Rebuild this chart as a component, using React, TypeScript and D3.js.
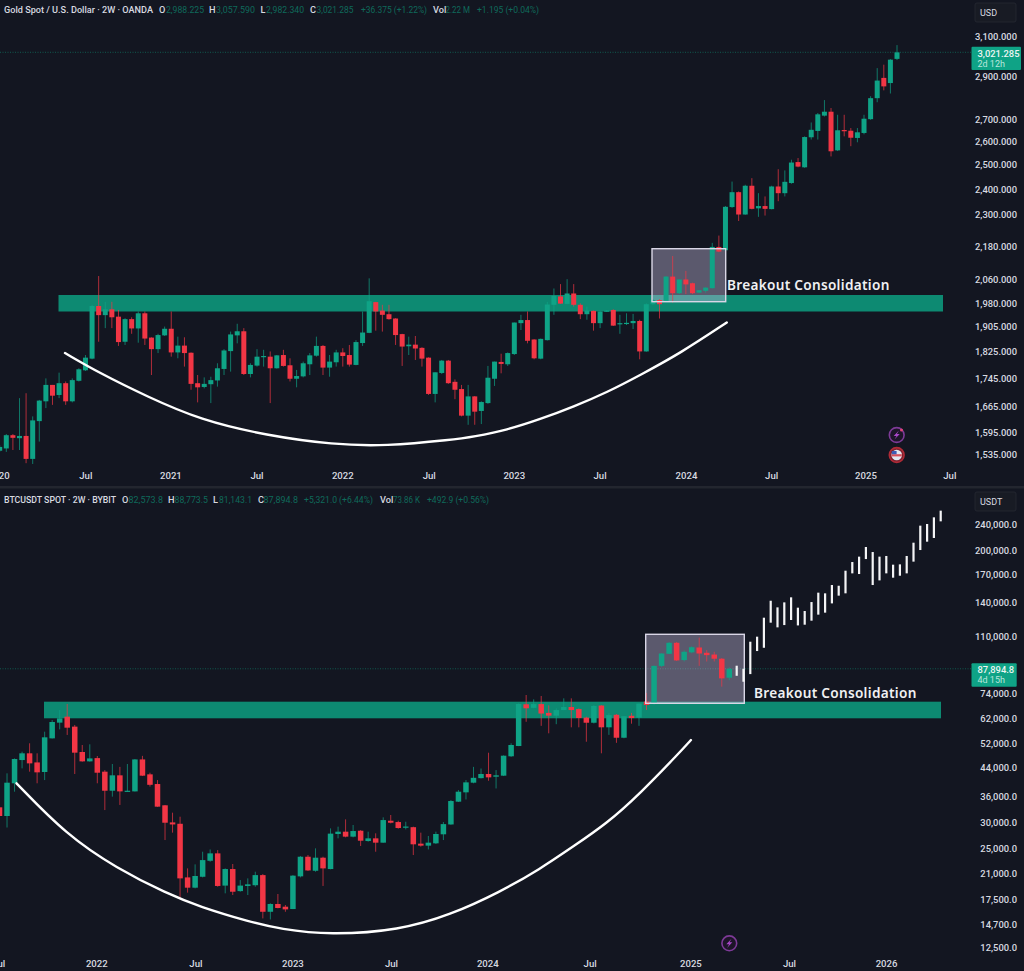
import React from "react";
import * as d3 from "d3";

type Row = [number, number, number, number];

// Gold 2W candles: [open, high, low, close]
const goldCandles: Row[] = [
[1546,1561,1543,1556],[1552,1590,1543,1587],[1587,1590,1548,1580],[1579,1689,1548,1585],[1585,1703,1514,1525],
[1525,1638,1512,1627],[1625,1684,1570,1682],[1680,1746,1661,1727],[1727,1727,1670,1696],[1698,1763,1689,1732],
[1732,1737,1670,1680],[1680,1746,1677,1741],[1739,1776,1737,1773],[1770,1816,1768,1808],[1805,1976,1803,1972],
[1972,2074,1857,1942],[1942,1986,1900,1961],[1961,1986,1900,1935],[1937,1959,1844,1856],[1857,1932,1847,1929],
[1929,1935,1882,1899],[1899,1954,1854,1948],[1948,1954,1847,1867],[1870,1871,1756,1834],[1834,1882,1822,1878],
[1877,1905,1875,1898],[1898,1954,1811,1824],[1824,1873,1806,1845],[1845,1871,1781,1822],[1823,1824,1713,1730],
[1732,1756,1677,1720],[1721,1749,1717,1730],[1729,1751,1675,1741],[1740,1791,1722,1776],[1774,1834,1756,1830],
[1828,1889,1766,1880],[1877,1914,1852,1890],[1890,1900,1756,1759],[1759,1791,1749,1786],[1784,1834,1781,1811],
[1810,1832,1781,1813],[1811,1827,1675,1776],[1776,1816,1775,1815],[1816,1832,1781,1783],[1785,1806,1737,1745],
[1745,1771,1720,1753],[1752,1796,1749,1791],[1788,1822,1756,1815],[1814,1873,1811,1844],[1844,1847,1756,1778],
[1778,1816,1751,1796],[1794,1832,1781,1824],[1824,1837,1781,1813],[1816,1847,1781,1787],[1786,1862,1785,1856],
[1853,1954,1844,1886],[1885,2066,1884,1988],[1985,1986,1892,1954],[1957,1976,1889,1943],[1945,1976,1927,1929],
[1931,1932,1847,1878],[1881,1882,1783,1842],[1843,1873,1816,1848],[1848,1875,1801,1836],[1838,1840,1781,1805],
[1808,1809,1698,1701],[1701,1764,1677,1764],[1762,1801,1759,1799],[1799,1801,1730,1732],[1736,1743,1686,1713],
[1715,1727,1638,1640],[1640,1727,1615,1694],[1694,1695,1615,1651],[1653,1680,1617,1678],[1675,1783,1673,1748],
[1745,1796,1724,1796],[1795,1820,1761,1789],[1788,1824,1783,1822],[1819,1918,1816,1918],[1916,1943,1894,1926],
[1926,1954,1852,1860],[1864,1865,1803,1806],[1805,1867,1803,1866],[1862,1986,1861,1977],[1976,2031,1943,2006],
[2004,2046,1979,1980],[1979,2063,1978,2014],[2014,2046,1970,1976],[1976,1981,1929,1945],[1945,1970,1927,1957],
[1956,1957,1892,1916],[1916,1955,1900,1954],[1954,1959,1953,1957],[1959,1961,1907,1908],[1913,1943,1882,1916],
[1914,1948,1910,1917],[1916,1946,1897,1923],[1923,1927,1803,1827],[1827,1981,1826,1978],[1978,1995,1975,1992],
[1992,1995,1931,1978],[1989,2074,1988,2072],[2072,2145,1983,2015],[2015,2062,2012,2062],[2062,2092,2012,2045],
[2049,2051,2012,2015],[2017,2026,2015,2025],[2023,2035,2017,2034],[2032,2193,2031,2178],[2178,2220,2159,2161],
[2166,2333,2164,2330],[2329,2431,2326,2388],[2388,2391,2275,2300],[2300,2418,2299,2414],[2414,2445,2320,2322],
[2324,2384,2291,2333],[2333,2371,2296,2322],[2321,2414,2320,2411],[2411,2482,2352,2384],[2384,2477,2371,2430],
[2425,2522,2422,2510],[2512,2529,2490,2493],[2490,2623,2488,2620],[2619,2685,2609,2652],[2647,2728,2609,2722],
[2716,2788,2712,2734],[2734,2751,2536,2558],[2562,2720,2559,2650],[2651,2720,2623,2648],[2648,2660,2580,2617],
[2616,2660,2597,2641],[2638,2720,2632,2702],[2700,2806,2697,2797],[2797,2942,2778,2881],[2894,2959,2834,2853],
[2869,2987,2819,2984],[2988,3058,2982,3021],
];

// BTC 2W candles: [open, high, low, close]
const btcCandles: Row[] = [
[33400,33550,31280,31430],[31430,42350,29000,39670],[39500,47000,37250,46800],[46460,49260,43840,48700],[48700,52230,42840,45400],
[45700,48700,39500,42640],[42740,56650,40400,54460],[54070,61440,54000,60610],[60340,65890,57570,62180],[62920,68740,55370,58250],
[58680,59370,42150,48920],[49150,51620,45940,46040],[46040,51860,45940,47000],[47100,47800,39500,42530],[42840,43320,32760,37500],
[37500,45200,35980,41760],[41760,44300,33950,37330],[37330,45200,37250,37500],[37330,46800,37300,46670],[46670,47840,41550,41660],
[42050,42530,38600,39080],[39300,40400,33500,33550],[33870,33950,26570,29990],[30060,32170,27980,29630],[29770,31280,17800,20330],
[20470,21800,18400,19050],[19050,22420,18960,20670],[20560,24490,20470,23100],[22990,24880,22830,24210],[24210,24770,19180,19280],
[19330,21800,18310,21700],[21700,22480,18100,18520],[18600,20090,18520,19330],[19280,20330,18100,19500],[19380,21300,19180,20800],
[20800,20950,15370,16100],[16100,17080,15260,17000],[17000,18230,16490,16530],[16680,16880,16100,16370],[16410,20800,16400,20720],
[20620,23760,20470,23650],[23650,23930,21400,21490],[21440,25070,21300,23490],[23490,23650,19280,21800],[21700,28830,21650,27790],
[27720,29180,26890,28170],[28170,30700,27080,27210],[27210,29520,27080,28300],[28360,28490,25490,26450],[26390,28170,26270,26890],
[26890,27850,24490,26090],[26090,31140,26080,30550],[30410,31650,29850,29990],[30130,30410,28770,28900],[29000,30200,28620,29200],
[29070,29180,23930,25790],[25910,27980,25370,25550],[25550,27340,24880,26090],[25970,28170,25850,27720],[27660,30130,26570,29700],
[29630,35130,29560,34900],[34740,37670,34660,37250],[37080,40400,35280,39760],[39670,44300,39500,41040],[40950,43800,40850,42150],
[42150,48900,40200,41170],[41360,43320,38100,41760],[41660,48000,41550,47900],[47700,52230,47500,51620],[51250,69000,51200,68740],
[68600,73200,60700,66700],[66900,71000,66700,68700],[68700,72700,59000,64300],[64600,68100,56000,63350],[63350,66700,59680,65890],
[65890,71500,65800,67300],[67300,71500,58400,65890],[66340,66650,58400,62320],[62500,62920,52800,60300],[60300,68200,60000,67800],
[68000,68200,48700,58400],[58400,64400,55400,63600],[63750,64100,52400,54300],[54300,63200,54100,63100],[63300,64600,59900,62300],
[62500,69000,59000,68900],[69900,74200,65890,68250],[68800,90000,68300,89700],[89700,98000,89000,97800],[97600,105900,97400,105400],
[105400,106000,92800,93200],[93400,100000,92500,99000],[98600,102800,98000,102200],[102000,109300,89700,97800],[98300,100100,92500,96700],
[97100,99000,92500,94300],[94300,94800,77600,82200],[82574,88774,81143,87895],
];

// Projected white bars on the BTC panel: [low, high]
const btcProjection: [number, number][] = [
[83700,89800],[80300,87900],[84700,106200],[99500,110000],[101800,125600],[121300,141400],[117400,135000],[119300,139800],
[123600,144800],[119000,134700],[119600,131600],[123000,140100],[128300,149600],[130100,148900],[138800,157800],[146500,157000],
[148900,174400],[171200,185300],[170400,192400],[189200,205800],[157800,198700],[163000,192400],[171200,193300],[166100,181900],
[168400,182300],[171200,193300],[185800,212100],[201500,238900],[213600,241700],[219200,253200],[246200,265300],
];

// Hand-drawn rounding-bottom curves: [candle index, price]
const goldCurve: [number, number][] = [[9.9,1822],[15.2,1761],[22.3,1694],[30.4,1628],[40.5,1586],[50.6,1562],[58.4,1558],[68.7,1575],[71.8,1583],[76.9,1601],[81.9,1630],[87,1665],[92.1,1706],[97.1,1756],[103.2,1822],[110.2,1918]];
const btcCurve: [number, number][] = [[2.26,39500],[8.9,27530],[15.6,21800],[22.2,18310],[26.6,16680],[33.3,15000],[37.3,14260],[43.9,13680],[53.2,14160],[59.9,15740],[66.5,18470],[71.85,21700],[76.2,25360],[80.7,29800],[85.1,36680],[90.5,49260],[91.9,53430]];

const goldPriceTicks = [3100,2900,2700,2600,2500,2400,2300,2180,2060,1980,1905,1825,1745,1665,1595,1535];
const btcPriceTicks = [240000,200000,170000,140000,110000,74000,62000,52000,44000,36000,30000,25000,21000,17500,14700,12500];

const goldTimeLabels = ["2020","Jul","2021","Jul","2022","Jul","2023","Jul","2024","Jul","2025","Jul"];
const goldTimeIndex = [-0.15,13.05,25.95,39,52,65.1,78,91,104.1,117,131.3,144];
const btcTimeLabels = ["Jul","2022","Jul","2023","Jul","2024","Jul","2025","Jul","2026"];
const btcTimeIndex = [-0.1,12.93,26.1,39,52.1,64.9,78.5,91.9,105,117.9];

const BG = "#131621";
const UP = "#0fa386";
const DOWN = "#f23645";
const BAND = "#0d8a72";
const FONT = "Roboto, 'Noto Sans', sans-serif";
const TXT = "#d8dae0";
const DIM = "#0f6a5b";

const goldY = d3.scaleLog().domain([3100, 1535]).range([37, 455]);
const btcY = d3.scaleLog().domain([240000, 12500]).range([525, 948]);
const goldX = d3.scaleLinear().domain([0, 136]).range([-0.3, 897]);
const btcX = d3.scaleLinear().domain([0, 97]).range([-0.5, 729.3]);
const projX = d3.scaleLinear().domain([0, 30]).range([736.7, 940.7]);

function Candles({ rows, x, y, w }: { rows: Row[]; x: (n: number) => number; y: (n: number) => number; w: number }) {
  return (
    <g>
      {rows.map((r, i) => {
        const [o, h, l, c] = r;
        const col = c >= o ? UP : DOWN;
        const top = y(Math.max(o, c));
        const bot = y(Math.min(o, c));
        return (
          <g key={i}>
            <line x1={x(i)} x2={x(i)} y1={y(h)} y2={y(l)} stroke={col} strokeWidth={1} strokeOpacity={0.7} />
            <rect x={x(i) - w / 2} y={top} width={w} height={Math.max(1.2, bot - top)} fill={col} />
          </g>
        );
      })}
    </g>
  );
}

function Header({ title, titleW, y, vals, keys }: { title: string; titleW: number; y: number; vals: [string, number, number][]; keys: [string, number][] }) {
  return (
    <g fontFamily={FONT} fontSize={9.2}>
      <text x={4} y={y} fill={TXT} fontWeight={500} textLength={titleW} lengthAdjust="spacingAndGlyphs">{title}</text>
      {keys.map(([t, x], i) => <text key={i} x={x} y={y} fill={TXT} fontWeight={500}>{t}</text>)}
      {vals.map(([t, x, w], i) => <text key={i} x={x} y={y} fill={DIM} textLength={w} lengthAdjust="spacingAndGlyphs">{t}</text>)}
    </g>
  );
}

function Panel(p: {
  rows: Row[]; x: any; y: any; w: number; ticks: number[]; fmt: (n: number) => string;
  timeLabels: string[]; timeIndex: number[]; timeY: number; curve: [number, number][];
  band: [number, number, number, number]; box: [number, number, number, number];
  textXY: [number, number]; lastY: number; tag: [number, number, number, number];
  tagText: [string, string]; unit: string; unitY: number;
}) {
  const line = d3.line<[number, number]>().x((d) => p.x(d[0])).y((d) => p.y(d[1])).curve(d3.curveBasis);
  const [bx0, bx1, by0, by1] = p.band;
  const [rx0, rx1, ry0, ry1] = p.box;
  const [tx0, tx1, ty0, ty1] = p.tag;
  return (
    <g>
      <line x1={0} x2={tx0} y1={p.lastY} y2={p.lastY} stroke="#0f6a5b" strokeWidth={0.8} strokeDasharray="1 1.5" />
      <rect x={bx0} y={by0} width={bx1 - bx0} height={by1 - by0} fill={BAND} />
      <rect x={rx0} y={ry0} width={rx1 - rx0} height={ry1 - ry0} fill="rgb(200,190,225)" fillOpacity={0.4} />
      <Candles rows={p.rows} x={p.x} y={p.y} w={p.w} />
      <rect x={rx0} y={ry0} width={rx1 - rx0} height={ry1 - ry0} fill="none" stroke="#d9d6e6" strokeWidth={1.4} />
      <path d={line(p.curve) ?? ""} fill="none" stroke="#fff" strokeWidth={2.4} strokeLinecap="round" />
      <text x={p.textXY[0]} y={p.textXY[1]} fill="#f0f0f2" fontFamily="'Noto Sans', sans-serif" fontWeight={600} fontSize={13.6} letterSpacing={0.3}>Breakout Consolidation</text>
      {p.ticks.map((t) => (
        <text key={t} x={1017} y={p.y(t) + 3.4} textAnchor="end" fill={TXT} fontSize={9.4} fontFamily={FONT} fontWeight={500}>{p.fmt(t)}</text>
      ))}
      {p.timeLabels.map((t, i) => (
        <text key={i} x={p.x(p.timeIndex[i])} y={p.timeY} textAnchor="middle" fill={TXT} fontSize={9.6} fontFamily={FONT} fontWeight={500}>{t}</text>
      ))}
      <rect x={tx0} y={ty0} width={tx1 - tx0} height={ty1 - ty0} fill={UP} rx={1} />
      <text x={977.5} y={ty0 + 9.8} fill="#eef5f3" fontSize={9.4} fontFamily={FONT} fontWeight={500}>{p.tagText[0]}</text>
      <text x={977.5} y={ty0 + 20} fill="#b9e6dc" fontSize={9} fontFamily={FONT}>{p.tagText[1]}</text>
      <rect x={975} y={p.unitY} width={41} height={19} fill="#181b24" stroke="#262a33" strokeWidth={0.8} rx={2} />
      <text x={980} y={p.unitY + 12.6} fill={TXT} fontSize={9} fontFamily={FONT}>{p.unit}</text>
    </g>
  );
}

function Bolt({ cx, cy }: { cx: number; cy: number }) {
  return (
    <g>
      <circle cx={cx} cy={cy} r={7.4} fill="#1d1528" stroke="#7d3a97" strokeWidth={1.6} />
      <path d={`M${cx + 2.2} ${cy - 4.6} L${cx - 3} ${cy + 1} L${cx - 0.2} ${cy + 1} L${cx - 2.2} ${cy + 4.6} L${cx + 3} ${cy - 1} L${cx + 0.2} ${cy - 1} Z`} fill="#a846c8" />
    </g>
  );
}

export default function App() {
  const goldFmt = d3.format(",.3f");
  const btcFmt = d3.format(",.1f");
  return (
    <svg width={1024} height={971} viewBox="0 0 1024 971" style={{ position: "fixed", left: 0, top: 0, display: "block" }}>
      <rect width={1024} height={971} fill={BG} />
      <rect x={0} y={486} width={1024} height={2.5} fill="#23262f" />
      <Panel rows={goldCandles} x={goldX} y={goldY} w={5} ticks={goldPriceTicks} fmt={goldFmt}
        timeLabels={goldTimeLabels} timeIndex={goldTimeIndex} timeY={478.5} curve={goldCurve}
        band={[58.5, 943, 295, 311.5]} box={[652, 725.7, 248.7, 301.7]} textXY={[727, 290]}
        lastY={goldY(3021.285)} tag={[971.5, 1021, 46.7, 70]} tagText={["3,021.285", "2d 12h"]} unit="USD" unitY={3} />
      <Panel rows={btcCandles} x={btcX} y={btcY} w={5.5} ticks={btcPriceTicks} fmt={btcFmt}
        timeLabels={btcTimeLabels} timeIndex={btcTimeIndex} timeY={967} curve={btcCurve}
        band={[44, 941, 701.7, 718.3]} box={[645.7, 744.3, 634.3, 703.3]} textXY={[754, 698]}
        lastY={btcY(87894.8)} tag={[971.5, 1016.7, 663.3, 686.7]} tagText={["87,894.8", "4d 15h"]} unit="USDT" unitY={492} />
      <g>
        {btcProjection.map(([lo, hi], i) => (
          <rect key={i} x={projX(i) - 1.1} y={btcY(hi)} width={2.2} height={btcY(lo) - btcY(hi)} fill="#f4f4f6" />
        ))}
      </g>
      <Header title="Gold Spot / U.S. Dollar · 2W · OANDA" titleW={149} y={13}
        keys={[["O", 159], ["H", 209], ["L", 260.5], ["C", 310], ["Vol", 433]]}
        vals={[["2,988.225", 166, 38], ["3,057.590", 216, 39], ["2,982.340", 266, 38], ["3,021.285", 316.5, 37], ["+36.375 (+1.22%)", 361, 66], ["2.22 M", 445.5, 24.5], ["+1.195 (+0.04%)", 477, 62]]} />
      <Header title="BTCUSDT SPOT · 2W · BYBIT" titleW={112} y={503}
        keys={[["O", 122], ["H", 168], ["L", 213], ["C", 258], ["Vol", 380]]}
        vals={[["82,573.8", 128.5, 34.5], ["88,773.5", 174.5, 33.5], ["81,143.1", 219, 33], ["87,894.8", 263.5, 34.5], ["+5,321.0 (+6.44%)", 304, 69], ["73.86 K", 393, 27], ["+492.9 (+0.56%)", 427, 62]]} />
      <Bolt cx={896.7} cy={435} />
      <circle cx={901.5} cy={430} r={1.5} fill="#e0457a" />
      <g>
        <circle cx={896.7} cy={455} r={7.4} fill="#7a2330" stroke="#b02a36" strokeWidth={1.6} />
        <circle cx={896.7} cy={455} r={5.3} fill="#e4e6f0" />
        <rect x={891.6} y={454.2} width={10.2} height={2.2} fill="#d9505c" />
        <rect x={891.8} y={451} width={4.8} height={3.2} fill="#3d5bb5" />
      </g>
      <Bolt cx={729.3} cy={943.3} />
    </svg>
  );
}
